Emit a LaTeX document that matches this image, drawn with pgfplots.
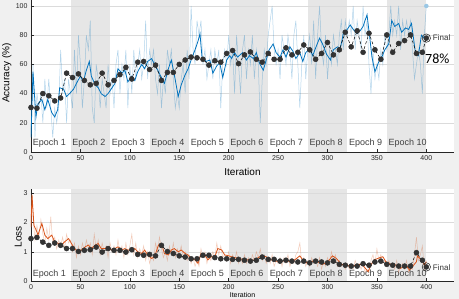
\documentclass[border=0pt]{standalone}
\usepackage{fontspec}
\setmainfont{Liberation Sans}
\newfontfamily\carlito{Carlito}
\usepackage{pgfplots}
\pgfplotsset{compat=1.18}
\definecolor{mblue}{HTML}{0072BD}
\definecolor{morange}{HTML}{D95319}
\definecolor{bggray}{HTML}{F0F0F0}
\definecolor{epshade}{HTML}{E6E6E6}
\definecolor{axcol}{HTML}{262626}
\definecolor{valcol}{HTML}{333333}
\definecolor{epcol}{HTML}{404040}
\pgfplotsset{
 mystyle/.style={
  scale only axis, width=423pt, xmin=0, xmax=428,
  axis x line*=bottom, axis y line*=left,
  axis line style={axcol, line width=0.5pt},
  tick align=inside, major tick length=3pt,
  tick style={axcol, line width=0.5pt},
  xtick={0,50,...,400},
  ticklabel style={font=\fontsize{7}{8}\selectfont, text=axcol},
  /pgf/number format/assume math mode=true,
  ymajorgrids, grid style={black!14, line width=0.4pt},
  label style={font=\fontsize{7.5}{9}\selectfont, text=axcol},
  clip mode=individual,
 },
}
\tikzset{
 eplab/.style={anchor=west, inner sep=0pt, font=\fontsize{9}{10}\selectfont, text=epcol},
 valstyle/.style={black, dash pattern=on 3pt off 2pt, line width=0.5pt, mark=*, mark size=2.5pt, mark options={solid, fill=valcol, draw=valcol}},
}
\begin{document}
\begin{tikzpicture}
\fill[bggray] (0pt,0pt) rectangle (459pt,299pt);
\useasboundingbox (0pt,0pt) rectangle (459pt,299pt);
\fill[white] (31pt,147pt) rectangle (454pt,299pt);
\fill[white] (31pt,18pt) rectangle (454pt,109.7pt);
% epoch shading (even epochs)
\foreach \a/\b in {70.533/110.065, 149.598/189.131, 228.664/268.196, 307.729/347.262, 386.794/426.327}{
  \fill[epshade] (\a pt,147pt) rectangle (\b pt,299pt);
  \fill[epshade] (\a pt,18pt) rectangle (\b pt,109.7pt);
}

% ---------------- Accuracy ----------------
\begin{axis}[mystyle, at={(31pt,147pt)}, anchor=south west, height=152pt,
  ymin=0, ymax=104.1, ytick={0,20,...,100},
  xlabel={Iteration}, ylabel={Accuracy (\%)},
  every axis x label/.style={at={(axis description cs:0.5,-0.13)}, anchor=center},
  every axis y label/.style={at={(axis description cs:-0.057,0.52)}, rotate=90, anchor=center}]
\node[eplab] at (axis cs:1.6,5.7) {Epoch 1};
\node[eplab] at (axis cs:41.6,5.7) {Epoch 2};
\node[eplab] at (axis cs:81.6,5.7) {Epoch 3};
\node[eplab] at (axis cs:121.6,5.7) {Epoch 4};
\node[eplab] at (axis cs:161.6,5.7) {Epoch 5};
\node[eplab] at (axis cs:201.6,5.7) {Epoch 6};
\node[eplab] at (axis cs:241.6,5.7) {Epoch 7};
\node[eplab] at (axis cs:281.6,5.7) {Epoch 8};
\node[eplab] at (axis cs:321.6,5.7) {Epoch 9};
\node[eplab] at (axis cs:361.6,5.7) {Epoch 10};
% raw mini-batch accuracy
\addplot[mblue, opacity=0.3, line width=0.5pt] coordinates {
(0,10)(2,60)(4,10)(6,40)(8,30)(10,40)(12,20)(14,50)(16,30)(18,50)(20,30)(22,10)(24,30)(26,20)(28,30)(30,70)(32,40)(34,50)(36,20)(38,50)(40,40)
(42,30)(44,70)(46,40)(48,80)(50,60)(52,30)(54,50)(56,80)(58,70)(60,90)(62,30)(64,20)(66,60)(68,50)(70,30)(72,50)(74,40)(76,30)(78,60)(80,40)
(82,50)(84,30)(86,60)(88,70)(90,40)(92,60)(94,50)(96,70)(98,30)(100,60)(102,40)(104,70)(106,50)(108,60)(110,70)(112,50)(114,60)(116,90)(118,50)(120,70)
(122,60)(124,70)(126,50)(128,40)(130,60)(132,30)(134,50)(136,40)(138,70)(140,60)(142,70)(144,50)(146,30)(148,40)(150,30)(152,50)(154,60)(156,40)(158,70)(160,50)
(162,100)(164,70)(166,60)(168,90)(170,80)(172,90)(174,60)(176,70)(178,50)(180,60)(182,70)(184,50)(186,70)(188,60)(190,70)(192,30)(194,60)(196,70)(198,60)(200,80)
(202,60)(204,70)(206,40)(208,80)(210,60)(212,40)(214,70)(216,80)(218,50)(220,70)(222,60)(224,80)(226,50)(228,70)(230,60)(232,20)(234,50)(236,70)(238,60)(240,80)
(242,90)(244,100)(246,70)(248,60)(250,70)(252,50)(254,80)(256,70)(258,60)(260,80)(262,70)(264,50)(266,80)(268,90)(270,60)(272,30)(274,60)(276,80)(278,50)(280,70)
(282,80)(284,60)(286,90)(288,50)(290,80)(292,100)(294,70)(296,60)(298,80)(300,50)(302,70)(304,60)(306,80)(308,70)(310,60)(312,80)(314,90)(316,70)(318,90)(320,80)
(322,90)(324,80)(326,100)(328,70)(330,90)(332,80)(334,70)(336,100)(338,80)(340,90)(342,60)(344,40)(346,70)(348,50)(350,60)(352,50)(354,70)(356,60)(358,80)(360,70)
(362,80)(364,100)(366,80)(368,90)(370,80)(372,100)(374,70)(376,90)(378,80)(380,90)(382,80)(384,90)(386,70)(388,50)(390,60)(392,70)(394,60)(396,40)(398,80)(400,100)
};
% smoothed accuracy
\addplot[mblue, line width=0.8pt] coordinates {
(0,10)(2,55)(5,24)(7,33)(11,36)(14,29)(17,36)(21,27)(24,24)(27,29)(29,44)(33,43)(36,38)(39,40)(43,43)(46,47)(50,52)(53,48)(56,56)(59,62)(61,52)(65,46)(68,44)(71,40)(75,38)(78,40)(81,43)(85,47)(88,57)(92,54)(95,56)(98,48)
(102,52)(105,49)(108,55)(112,60)(115,57)(118,62)(122,64)(125,60)(129,55)(132,51)(135,47)(139,57)(142,63)(145,53)(149,38)(152,46)(156,53)(159,57)(162,63)(166,70)(169,76)(171,81)(173,65)(177,62)(181,63)(184,54)(188,59)(191,61)(194,51)(198,63)
(201,66)(203,64)(206,68)(209,65)(214,68)(218,63)(221,66)(225,64)(228,68)(231,61)(235,56)(238,63)(241,70)(245,74)(248,68)(252,65)(255,70)(258,65)(262,72)(265,69)(268,64)(272,68)(275,62)(278,68)(282,71)(285,66)(289,73)(292,78)(295,74)(299,67)
(303,63)(306,70)(310,72)(313,71)(316,81)(320,84)(323,87)(326,84)(330,81)(333,83)(336,86)(340,94)(343,77)(345,65)(348,55)(352,62)(355,65)(358,70)(362,74)(365,90)(368,86)(372,88)(375,82)(379,85)(382,84)(385,88)(389,68)(392,66)(395,80)(398,78)(400,79)
};
% validation accuracy
\addplot[valstyle] coordinates {
(0,30.5)(6,30)(12,40)(18,38.5)(24,35)(30,37)(36,54)(42,51)(48,53.5)(54,49)(60,46)(66,47)(72,54)(78,46)(84,49)(90,53)(96,58)(102,50)(108,61.5)(114,62)
(120,56.5)(126,59.5)(132,49)(138,54.5)(144,54.5)(150,60)(156,63)(162,65)(168,64.5)(174,63.5)(180,59.5)(186,62.5)(192,61.5)(198,67.5)(204,69.5)(210,60.5)
(216,66.5)(222,68.5)(228,63.5)(234,61.5)(240,67.5)(246,63.5)(252,63.5)(258,71.3)(264,66.5)(270,68.3)(276,73.3)(282,70)(288,63.5)(294,67.5)(300,75)(306,66.5)
(312,70)(318,82)(324,72)(330,83)(336,68.3)(342,81.3)(348,70)(354,63.5)(360,80.2)(366,68.3)(372,74.3)(378,76.3)(384,80.2)(390,67.5)(396,68.3)(400,78)
};
\addplot[only marks, mark=*, mark size=2pt, mark options={fill=mblue!40, draw=mblue!40}] coordinates {(400,100)};
\addplot[only marks, mark=o, mark size=4.2pt, mark options={draw=valcol, line width=0.6pt}] coordinates {(400,78)};
\node[anchor=west, inner sep=0pt, font=\fontsize{8}{9}\selectfont, text=valcol] at (axis cs:406.5,78) {Final};
\node[anchor=west, inner sep=0pt, font=\carlito\fontsize{14}{16}\selectfont] at (axis cs:398.7,63.7) {78\%};
\end{axis}

% ---------------- Loss ----------------
\begin{axis}[mystyle, at={(31pt,18pt)}, anchor=south west, height=91.7pt,
  ymin=0, ymax=3.137, ytick={0,1,2,3},
  xlabel={Iteration}, ylabel={Loss},
  every axis x label/.style={at={(axis description cs:0.5,-0.158)}, anchor=center, font=\fontsize{7}{8}\selectfont},
  every axis y label/.style={at={(axis description cs:-0.030,0.48)}, rotate=90, anchor=center}]
\node[eplab] at (axis cs:1.6,0.23) {Epoch 1};
\node[eplab] at (axis cs:41.6,0.23) {Epoch 2};
\node[eplab] at (axis cs:81.6,0.23) {Epoch 3};
\node[eplab] at (axis cs:121.6,0.23) {Epoch 4};
\node[eplab] at (axis cs:161.6,0.23) {Epoch 5};
\node[eplab] at (axis cs:201.6,0.23) {Epoch 6};
\node[eplab] at (axis cs:241.6,0.23) {Epoch 7};
\node[eplab] at (axis cs:281.6,0.23) {Epoch 8};
\node[eplab] at (axis cs:321.6,0.23) {Epoch 9};
\node[eplab] at (axis cs:361.6,0.23) {Epoch 10};
% raw mini-batch loss
\addplot[morange, opacity=0.3, line width=0.5pt] coordinates {
(0,1.8)(1,2.95)(2,2.2)(4,1.4)(6,1.9)(8,1.5)(10,2.1)(12,1.6)(14,1.3)(16,1.8)(18,1.4)(20,2.2)(22,1.3)(24,1.5)(26,1.1)(28,1.4)(30,1.2)(32,1.5)(34,1.1)(36,1.6)(38,1.3)(40,1.4)
(42,1.0)(44,1.3)(46,0.8)(48,1.2)(50,0.9)(52,1.3)(54,1.0)(56,1.4)(58,1.1)(60,1.3)(62,0.9)(64,1.6)(66,1.1)(68,1.4)(70,0.9)(72,1.3)(74,1.0)(76,1.2)(78,0.8)(80,1.3)
(82,1.0)(84,1.2)(86,0.9)(88,1.4)(90,1.0)(92,1.2)(94,0.8)(96,1.3)(98,0.9)(100,1.2)(102,1.6)(104,0.9)(106,1.3)(108,0.8)(110,1.1)(112,0.9)(114,1.2)(116,0.7)(118,1.0)(120,0.6)
(122,0.9)(124,0.7)(126,1.3)(128,1.0)(130,1.5)(132,1.1)(134,0.8)(136,1.0)(138,0.7)(140,1.2)(142,0.9)(144,1.3)(146,0.8)(148,1.1)(150,0.9)(152,1.2)(154,0.8)(156,1.0)(158,0.7)(160,0.9)
(162,0.6)(164,0.8)(166,0.5)(168,0.7)(170,0.5)(172,1.1)(174,0.8)(176,1.0)(178,0.6)(180,0.9)(182,0.7)(184,1.0)(186,0.8)(188,1.3)(190,0.9)(192,1.2)(194,0.8)(196,0.9)(198,0.7)(200,1.0)
(202,0.6)(204,0.9)(206,0.7)(208,1.0)(210,0.6)(212,0.8)(214,0.6)(216,0.9)(218,0.6)(220,0.8)(222,0.6)(224,0.9)(226,0.7)(228,1.0)(230,0.8)(232,1.1)(234,0.7)(236,0.9)(238,0.6)(240,0.8)
(242,0.6)(244,0.9)(246,0.5)(248,0.7)(250,0.6)(252,0.8)(254,0.5)(256,0.8)(258,0.6)(260,0.9)(262,0.5)(264,0.7)(266,0.6)(268,0.9)(270,1.0)(272,1.3)(274,0.6)(276,0.8)(278,0.5)(280,0.7)
(282,0.5)(284,0.8)(286,0.6)(288,0.7)(290,0.5)(292,0.8)(294,0.4)(296,0.7)(298,0.5)(300,0.8)(302,0.6)(304,1.0)(306,0.7)(308,0.9)(310,0.5)(312,0.7)(314,0.5)(316,0.6)(318,0.4)(320,0.6)
(322,0.4)(324,0.6)(326,0.4)(328,0.7)(330,0.5)(332,0.6)(334,0.4)(336,0.6)(338,0.3)(340,0.4)(342,0.3)(344,0.7)(346,0.9)(348,0.6)(350,1.1)(352,0.7)(354,0.9)(356,0.6)(358,0.7)(360,0.5)
(362,0.7)(364,0.5)(366,0.6)(368,0.4)(370,0.7)(372,0.3)(374,0.5)(376,0.6)(378,0.4)(380,0.7)(382,0.3)(384,0.5)(386,0.4)(388,0.9)(390,1.5)(392,0.7)(394,0.9)(396,1.2)(398,0.4)(400,0.7)
};
% smoothed loss
\addplot[morange, line width=0.8pt] coordinates {
(0,1.85)(1,2.95)(3,1.9)(6,1.68)(7,1.57)(11,1.97)(14,1.57)(17,1.45)(21,1.57)(24,1.34)(28,1.28)(31,1.23)(34,1.34)(38,1.45)(41,1.28)(44,1.11)(48,1.0)(51,1.06)(55,1.17)(58,1.23)(61,1.11)(65,1.23)(68,1.28)(71,1.11)(75,1.11)(78,1.17)
(81,1.06)(85,1.11)(88,1.17)(92,1.06)(95,1.11)(98,1.06)(102,1.06)(105,1.11)(108,1.0)(112,0.94)(115,1.06)(118,0.89)(122,0.77)(125,0.83)(129,1.23)(132,1.28)(135,0.94)(139,0.89)(142,1.06)(145,1.11)(149,1.0)(152,1.06)(156,0.94)
(159,0.89)(162,0.77)(166,0.72)(169,0.6)(172,0.94)(176,0.89)(179,0.72)(182,0.83)(186,0.83)(189,1.11)(193,1.06)(196,0.89)(199,0.87)(206,0.8)(213,0.75)(220,0.72)(226,0.72)(233,0.86)(238,0.83)(243,0.72)(248,0.68)(253,0.66)
(258,0.72)(263,0.64)(268,0.75)(272,0.86)(275,0.72)(280,0.6)(285,0.68)(290,0.66)(295,0.57)(300,0.64)(305,0.86)(309,0.77)(314,0.57)(319,0.55)(324,0.49)(329,0.55)(334,0.57)(337,0.49)(341,0.32)(344,0.55)(347,0.72)(353,0.8)
(356,0.83)(359,0.66)(364,0.57)(369,0.55)(374,0.43)(379,0.55)(383,0.37)(386,0.49)(390,0.66)(391,0.86)(395,0.72)(398,0.55)(400,0.66)
};
% validation loss
\addplot[valstyle] coordinates {
(0,1.45)(6,1.49)(12,1.33)(18,1.22)(24,1.30)(30,1.22)(36,1.11)(42,1.11)(48,1.01)(54,1.05)(60,1.07)(66,1.16)(72,0.99)(78,1.11)(84,1.05)(90,1.05)(96,0.99)(102,1.07)
(108,0.91)(114,0.88)(120,0.91)(126,0.86)(132,1.22)(138,1.01)(144,0.94)(150,0.86)(156,0.82)(162,0.76)(168,0.76)(174,0.88)(180,0.88)(186,0.80)(192,0.76)(198,0.76)
(204,0.74)(210,0.74)(216,0.71)(222,0.68)(228,0.71)(234,0.82)(240,0.74)(246,0.74)(252,0.68)(258,0.71)(264,0.68)(270,0.65)(276,0.68)(282,0.62)(288,0.68)(294,0.65)
(300,0.62)(306,0.68)(312,0.57)(318,0.54)(324,0.51)(330,0.51)(336,0.59)(342,0.54)(348,0.65)(354,0.68)(360,0.57)(366,0.54)(372,0.51)(378,0.51)(384,0.51)(390,0.97)(396,0.71)(400,0.48)
};
\addplot[only marks, mark=o, mark size=4.2pt, mark options={draw=valcol, line width=0.6pt}] coordinates {(400,0.48)};
\node[anchor=west, inner sep=0pt, font=\fontsize{8}{9}\selectfont, text=valcol] at (axis cs:406.5,0.46) {Final};
\end{axis}
\end{tikzpicture}
\end{document}
